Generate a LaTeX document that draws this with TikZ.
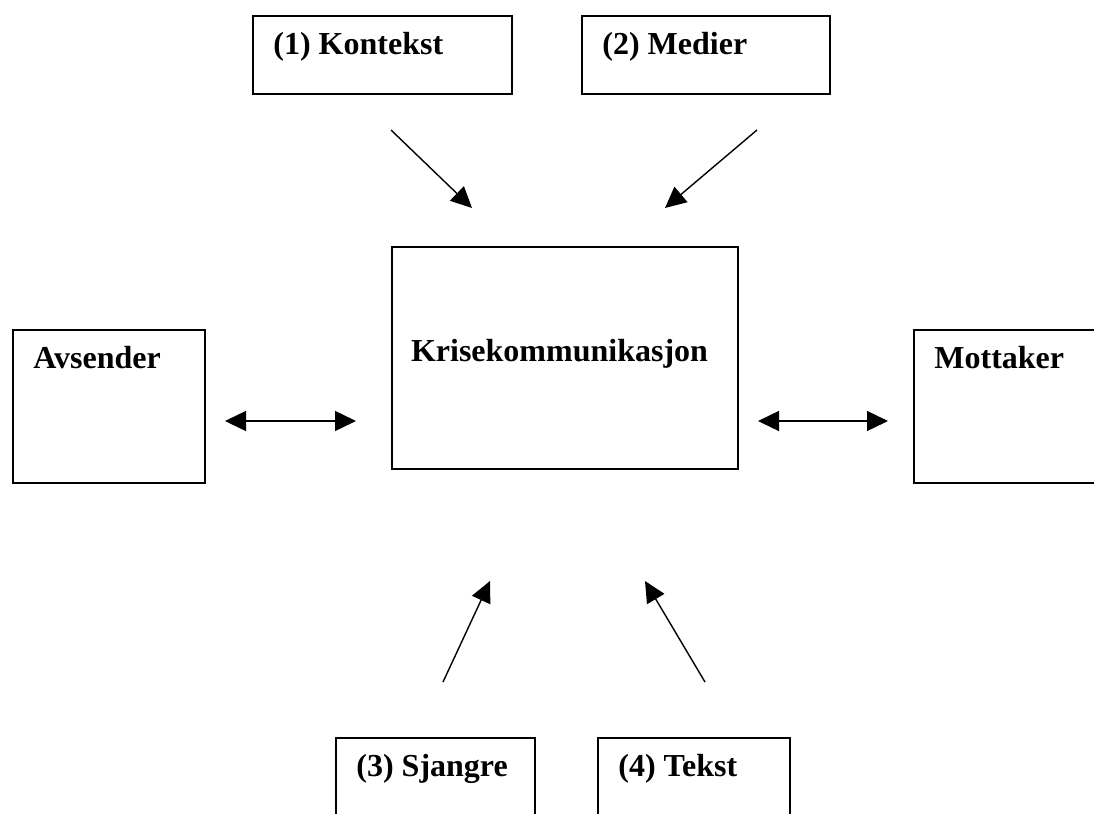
\documentclass[tikz,border=0pt]{standalone}
\usepackage{fontspec}
\setmainfont{Liberation Serif}
\usetikzlibrary{arrows.meta,calc}

\begin{document}
\begin{tikzpicture}[
    x=0.5pt, y=-0.5pt,
    box/.style={rectangle,draw,line width=0.9pt,anchor=north west,inner sep=0pt},
    lbl/.style={anchor=base west,inner sep=0pt,font=\fontsize{16}{19}\selectfont\bfseries},
    conn/.style={line width=0.7pt,-{Triangle[length=10.5pt,width=10pt]}},
    dconn/.style={line width=0.7pt,{Triangle[length=10.5pt,width=10pt]}-{Triangle[length=10.5pt,width=10pt]}}
  ]
  \useasboundingbox (0,0) rectangle (1094,814);
  \clip (0,0) rectangle (1094,814);
  % Boxes
  \node[box,minimum width=129.5pt,minimum height=39pt] (kontekst) at (252,15) {};
  \node[box,minimum width=124pt,minimum height=39pt]   (medier)   at (581,15) {};
  \node[box,minimum width=173pt,minimum height=111pt]  (krise)    at (391,246) {};
  \node[box,minimum width=96pt,minimum height=76.5pt]  (avsender) at (12,329) {};
  \node[box,minimum width=98.5pt,minimum height=76.5pt] (mottaker) at (913,329) {};
  \node[box,minimum width=99.5pt,minimum height=46.5pt] (sjangre)  at (335,737) {};
  \node[box,minimum width=96pt,minimum height=46.5pt]  (tekst)    at (597,737) {};
  % Labels
  \foreach \n/\t in {kontekst/{(1) Kontekst}, medier/{(2) Medier}, avsender/{Avsender},
                     mottaker/{Mottaker}, sjangre/{(3) Sjangre}, tekst/{(4) Tekst}} {
    \node[lbl] (\n-t) at ($(\n.north west)+(21,39)$) {\t};
  }
  \node[lbl,anchor=base] (krise-t) at (559.5,361) {Krisekommunikasjon};
  % Arrow ends
  \coordinate (k1) at (391,130); \coordinate (k2) at (472,208);
  \coordinate (m1) at (757,130); \coordinate (m2) at (665,208);
  \coordinate (s1) at (443,682); \coordinate (s2) at (490,581);
  \coordinate (t1) at (705,682); \coordinate (t2) at (645,581);
  \coordinate (a1) at (225,421); \coordinate (a2) at (356,421);
  \coordinate (r1) at (758,421); \coordinate (r2) at (888,421);
  % Arrows
  \draw[conn] (k1) -- (k2);
  \draw[conn] (m1) -- (m2);
  \draw[conn] (s1) -- (s2);
  \draw[conn] (t1) -- (t2);
  \draw[dconn] (a1) -- (a2);
  \draw[dconn] (r1) -- (r2);
\end{tikzpicture}
\end{document}
